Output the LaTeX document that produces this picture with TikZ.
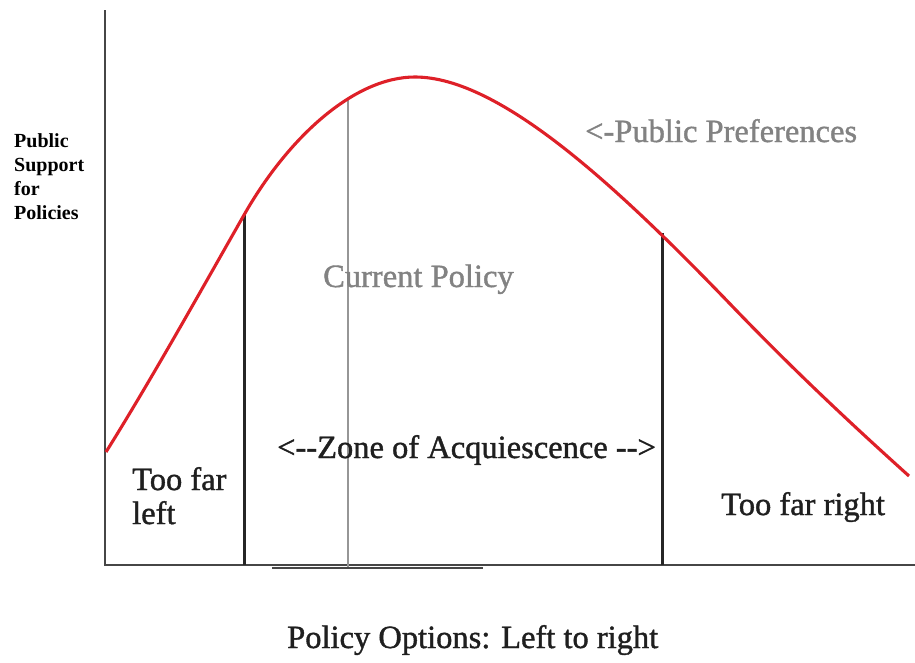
\documentclass[tikz,border=0pt]{standalone}
\usepackage{fontspec}
\setmainfont{Liberation Serif}
\newfontfamily\heavyserif[FakeBold=1.2]{Liberation Serif}
\definecolor{curvered}{RGB}{222,32,40}
\definecolor{axisgray}{RGB}{70,70,70}
\definecolor{labelgray}{RGB}{130,130,130}
\definecolor{policygray}{RGB}{150,150,150}
\tikzset{
  axisline/.style={draw=axisgray, line width=2.3pt},
  zoneline/.style={draw=black!85, line width=3pt},
  policyline/.style={draw=policygray, line width=1.4pt},
  prefcurve/.style={draw=curvered, line width=3.1pt},
  bigtext/.style={inner sep=0pt, font=\heavyserif\fontsize{32.5}{34}\selectfont},
  graytext/.style={bigtext, text=labelgray},
  blacktext/.style={bigtext, text=black!88},
  ylabel/.style={inner sep=0pt, font=\fontsize{20}{23.7}\selectfont\bfseries, align=left}
}
\begin{document}
\begin{tikzpicture}[x=1pt, y=-1pt]
\useasboundingbox (0,0) rectangle (915,662);
% axes
\coordinate (ytop) at (105,10);
\coordinate (origin) at (105,565);
\coordinate (xend) at (915,565);
\coordinate (stepL) at (272,567.5);
\coordinate (stepR) at (483,567.5);
\draw[axisline] (ytop) -- (origin) -- (xend);
\draw[axisgray, line width=2pt] (stepL) -- (stepR);
% curve points
\coordinate (c0) at (106,452);
\coordinate (cleft) at (244,215);
\coordinate (peak) at (415,77);
\coordinate (cmid) at (733,307);
\coordinate (c9) at (909,476);
\coordinate (cpol) at (348,100);
\coordinate (cright) at (662,233);
\coordinate (bleft) at (244,565);
\coordinate (bpol) at (348,567);
\coordinate (bright) at (662,565);
% vertical lines
\draw[policyline] (cpol) -- (bpol);
\draw[zoneline] (cleft) -- (bleft);
\draw[zoneline] (cright) -- (bright);
% curve
\draw[prefcurve] (c0) .. controls (151,380) and (199,294) .. (cleft)
  .. controls (289,136) and (355,77) .. (peak)
  .. controls (500,77) and (618,187.4) .. (cmid)
  .. controls (793,369.4) and (849,422) .. (c9);
% labels
\node[ylabel, anchor=base west] (ylab) at (14,219) {Public\\Support\\for\\Policies};
\node[graytext, anchor=base west] (pref) at (585,142) {<-Public Preferences};
\node[graytext, anchor=base west] (cur) at (323,287) {Current Policy};
\node[blacktext, anchor=base west] (zone) at (277,458) {<-\kern0pt-Zone of Acquiescence -\kern0pt->};
\node[blacktext, anchor=base west] (tfl1) at (132,490) {Too far};
\node[blacktext, anchor=base west] (tfl2) at (132,524) {left};
\node[blacktext, anchor=base west] (tfr) at (721,515) {Too far right};
\node[blacktext, anchor=base west] (xlab) at (287,648) {Policy Options: Left to right};
\end{tikzpicture}
\end{document}
